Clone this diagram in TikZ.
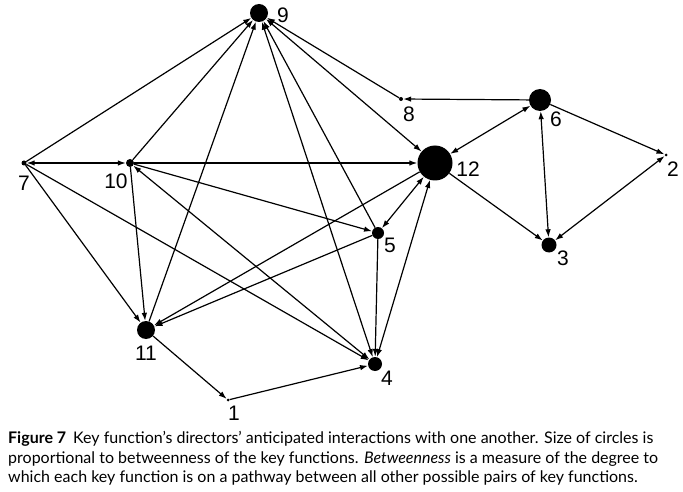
\documentclass[tikz,border=0pt]{standalone}
\usepackage{fontspec}
\setmainfont{Liberation Sans}
\newfontfamily\capfont{Lato}
\usetikzlibrary{arrows.meta}
\begin{document}
\begin{tikzpicture}[x=1pt,y=-1pt,
  vtx/.style={circle,fill=black,inner sep=0pt,minimum size=#1},
  lbl/.style={font=\fontsize{21}{21}\selectfont,inner sep=0pt},
  edge/.style={line width=1.2pt,-{Latex[length=8pt,width=5.5pt]}},
  bedge/.style={line width=1.2pt,{Latex[length=8pt,width=5.5pt]}-{Latex[length=8pt,width=5.5pt]}},
  capline/.style={anchor=base west,inner sep=0pt,font=\capfont\fontsize{16}{16}\selectfont}]
\useasboundingbox (0,0) rectangle (683,492);
\fill[white] (0,0) rectangle (683,492);
% vertices
\node[vtx=18pt] (n9) at (259,13) {};
\node[vtx=5pt] (n7) at (24,163) {};
\node[vtx=8pt] (n10) at (130,163) {};
\node[vtx=35pt] (n12) at (435,163) {};
\node[vtx=4pt] (n8) at (401,99) {};
\node[vtx=22pt] (n6) at (540,100) {};
\node[vtx=3pt] (n2) at (666,155) {};
\node[vtx=15pt] (n3) at (549,245) {};
\node[vtx=12pt] (n5) at (378,233) {};
\node[vtx=18pt] (n11) at (146,330) {};
\node[vtx=14pt] (n4) at (375,364) {};
\node[vtx=3pt] (n1) at (228,400) {};
% labels
\node[lbl] (l9) at (283,15) {9};
\node[lbl] (l7) at (24,183) {7};
\node[lbl] (l10) at (116,181) {10};
\node[lbl] (l12) at (468,169) {12};
\node[lbl] (l8) at (409,114) {8};
\node[lbl] (l6) at (556,119) {6};
\node[lbl] (l2) at (673,169) {2};
\node[lbl] (l3) at (563,258) {3};
\node[lbl] (l5) at (390,245) {5};
\node[lbl] (l11) at (146,353) {11};
\node[lbl] (l4) at (387,378) {4};
\node[lbl] (l1) at (234,413) {1};
% edges
\draw[edge] (n7) -- (n9);
\draw[bedge] (n7) -- (n10);
\draw[edge] (n7) -- (n11);
\draw[edge] (n7) -- (n4);
\draw[edge] (n10) -- (n9);
\draw[edge] (n10) -- (n12);
\draw[edge] (n10) -- (n5);
\draw[edge] (n10) -- (n11);
\draw[bedge] (n4) -- (n10);
\draw[edge] (n11) -- (n9);
\draw[edge] (n11) -- (n1);
\draw[edge] (n1) -- (n4);
\draw[edge] (n5) -- (n11);
\draw[edge] (n12) -- (n11);
\draw[edge] (n5) -- (n9);
\draw[bedge] (n9) -- (n4);
\draw[bedge] (n9) -- (n12);
\draw[edge] (n8) -- (n9);
\draw[edge] (n6) -- (n8);
\draw[bedge] (n6) -- (n12);
\draw[bedge] (n6) -- (n3);
\draw[edge] (n6) -- (n2);
\draw[bedge] (n3) -- (n2);
\draw[edge] (n12) -- (n3);
\draw[bedge] (n12) -- (n5);
\draw[edge] (n5) -- (n4);
\draw[bedge] (n4) -- (n12);
% caption
\node[capline] (c1) at (8,443) {\textbf{Figure 7}\hspace{7pt}Key function’s directors’ anticipated interactions with one another. Size of circles is};
\node[capline] (c2) at (8,463) {proportional to betweenness of the key functions. \textit{Betweenness} is a measure of the degree to};
\node[capline] (c3) at (8,482) {which each key function is on a pathway between all other possible pairs of key functions.};
\end{tikzpicture}
\end{document}
